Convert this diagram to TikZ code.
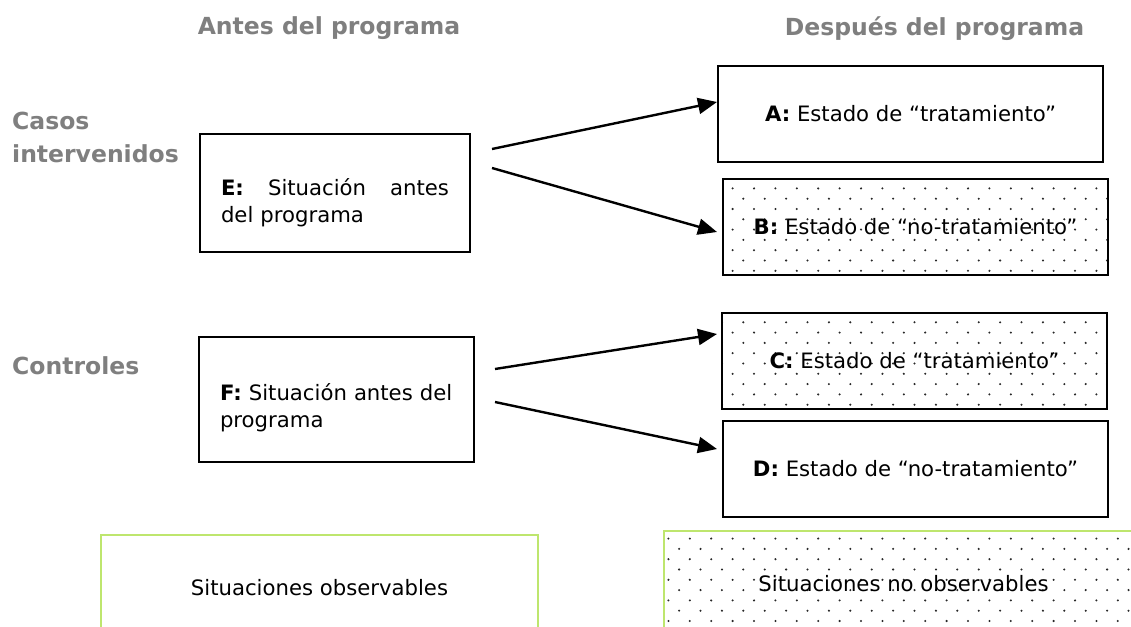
\documentclass[tikz,border=0pt]{standalone}
\usepackage{fontspec}
\setmainfont{DejaVu Sans}
\usepackage{tikz}
\usetikzlibrary{arrows.meta, positioning, calc, patterns}
\definecolor{hdrgray}{RGB}{127,127,127}
\definecolor{obsgreen}{RGB}{190,230,110}
\definecolor{dotgray}{RGB}{40,40,40}
\pgfdeclarepatternformonly{stagdots}{\pgfqpoint{-1.5pt}{-1.5pt}}{\pgfqpoint{22.9pt}{22.1pt}}{\pgfqpoint{21.4pt}{20.6pt}}{%
  \pgfpathcircle{\pgfqpoint{5pt}{5pt}}{1.15pt}%
  \pgfpathcircle{\pgfqpoint{15.7pt}{15.3pt}}{1.15pt}%
  \pgfusepath{fill}}
\tikzset{
  header/.style={font=\fontsize{23.5}{33}\selectfont\bfseries, text=hdrgray,
    inner sep=0pt, align=left},
  outbox/.style={rectangle, draw=black, line width=2pt, minimum width=385pt,
    minimum height=96pt, font=\fontsize{21.2}{27}\selectfont, inner sep=0pt},
  outdots/.style={outbox, pattern=stagdots, pattern color=dotgray},
  before/.style={rectangle, draw=black, line width=2pt, minimum height=118pt,
    font=\fontsize{21.2}{27}\selectfont, align=left, inner sep=0pt},
  legend/.style={rectangle, draw=obsgreen, line width=1.5pt, minimum height=105pt,
    font=\fontsize{21.2}{27}\selectfont, inner sep=0pt},
  arrow/.style={-{Triangle[length=19pt, width=16pt]}, line width=2.4pt}
}

\begin{document}
\begin{tikzpicture}[x=1pt, y=-1pt]
  \useasboundingbox (0,0) rectangle (1131,626);
  \clip (0,0) rectangle (1131,626);

  % Headers
  \node[header, anchor=base] (antes) at (329,35) {Antes del programa};
  \node[header, anchor=base] (despues) at (934.5,36) {Después del programa};
  \node[header, anchor=base west] (casos) at (12,162) {Casos\\intervenidos};
  \node[header, anchor=base west] (controles) at (12,374) {Controles};

  % Before the programme
  \node[before, minimum width=270pt, text width=228pt] (E) at (335,193)
    {\rule{0pt}{36pt}\textbf{E:}\hfill Situación\hfill antes\\del programa};
  \node[before, minimum width=275pt, minimum height=125pt, text width=233pt] (F) at (336.5,399.5)
    {\rule{0pt}{34pt}\textbf{F:} Situación antes del\\programa};

  % After the programme
  \node[outbox] (A) at (910.5,114) {\textbf{A:} Estado de “tratamiento”};
  \node[outdots] (B) at (915.5,226.5) {\textbf{B:} Estado de “no-tratamiento”};
  \node[outdots] (C) at (914.5,361) {\textbf{C:} Estado de “tratamiento”};
  \node[outbox] (D) at (915.5,468.5) {\textbf{D:} Estado de “no-tratamiento”};

  % Arrows
  \coordinate (eA) at ($(E.east)+(21,-44)$);
  \coordinate (eB) at ($(E.east)+(21,-25)$);
  \coordinate (fC) at ($(F.east)+(20,-30.5)$);
  \coordinate (fD) at ($(F.east)+(20,2.5)$);
  \draw[arrow] (eA) -- ($(A.west)+(0,-12)$);
  \draw[arrow] (eB) -- ($(B.west)+(-5,5.5)$);
  \draw[arrow] (fC) -- ($(C.west)+(-4,-27)$);
  \draw[arrow] (fD) -- ($(D.west)+(-5,-19.5)$);

  % Legend
  \node[legend, minimum width=437pt] (obs) at (319.5,587.5) {Situaciones observables};
  \node[legend, minimum width=479pt, pattern=stagdots, pattern color=dotgray] (noobs) at (903.5,583.5)
    {Situaciones no observables};
\end{tikzpicture}
\end{document}
